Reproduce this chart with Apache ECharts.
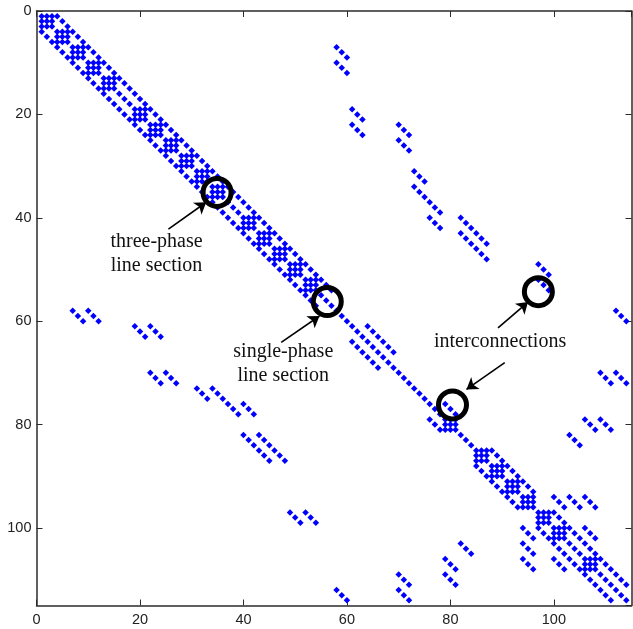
<!DOCTYPE html>
<html>
<head>
<meta charset="utf-8">
<script src="https://cdn.jsdelivr.net/npm/echarts@6/dist/echarts.min.js"></script>
<style>html,body{margin:0;padding:0;background:#fff}#c{width:633px;height:629px}</style>
</head>
<body>
<div id="c"></div>
<script>
// Sparsity pattern (symmetric matrix, 1-based indices).
const threePhaseBlockStarts = [1,4,7,10,13,19,22,25,28,31,34,40,43,46,49,52,79,85,88,91,94,97,100,106];
const diagonalRuns = [[16,18],[37,39],[55,78],[82,84],[103,105],[109,114]];
const offsetThreeRuns = [[1,54],[76,78],[85,93],[97,111]];
const interconnectionRuns = [
  [7,58,3],[10,58,3],[19,61,3],[22,61,3],[22,70,3],[25,70,3],[31,73,3],[34,73,6],
  [40,76,3],[40,82,6],[43,82,6],[49,97,3],[52,97,3],[58,112,3],[61,64,6],
  [70,109,3],[70,112,3],[79,106,3],[79,109,3],[82,103,3],
  [94,100,3],[94,103,3],[94,106,3],[100,106,3]
];
const axisMax = 115;
const tickStep = 20;
const circleCentres = [[34.9,35.1],[56.2,56.2],[97,54.3],[80.4,76.2]];
const arrows = [
  [[25.5,42.2],[32.8,37.0]],
  [[47.3,64.1],[54.7,59.0]],
  [[89.2,61.3],[95.0,56.3]],
  [[90.5,68],[83.1,73.2]]
];
const notes = [
  ['three-phase',23.2,44.6],['line section',23.2,49.2],
  ['single-phase',47.7,65.9],['line section',47.7,70.6],
  ['interconnections',89.6,64]
];

const points = [];
threePhaseBlockStarts.forEach(s => {
  for (let r = s; r < s + 3; r++) for (let c = s; c < s + 3; c++) points.push([c, r]);
});
diagonalRuns.forEach(([a, b]) => { for (let i = a; i <= b; i++) points.push([i, i]); });
offsetThreeRuns.forEach(([a, b]) => {
  for (let i = a; i <= b; i++) { points.push([i + 3, i]); points.push([i, i + 3]); }
});
interconnectionRuns.forEach(([r, c, n]) => {
  for (let k = 0; k < n; k++) { points.push([c + k, r + k]); points.push([r + k, c + k]); }
});

const axisColor = '#2b2b2b';
function axis(position, showLabels) {
  const vertical = position === 'left' || position === 'right';
  return {
    type: 'value', position, min: 0, max: axisMax, interval: tickStep,
    inverse: vertical,
    splitLine: { show: false },
    axisLine: { show: true, onZero: false, lineStyle: { color: axisColor, width: 1.5 } },
    axisTick: { show: true, inside: true, length: 6, lineStyle: { color: axisColor, width: 1 } },
    axisLabel: {
      show: showLabels, showMaxLabel: false, margin: vertical ? 5 : 7,
      fontFamily: 'Liberation Sans', fontSize: 14.5, color: '#222'
    }
  };
}

const chart = echarts.init(document.getElementById('c'), null, { renderer: 'canvas' });
chart.setOption({
  animation: false,
  backgroundColor: '#fff',
  grid: { left: 36.5, top: 11, width: 595, height: 594.5, containLabel: false },
  xAxis: [axis('bottom', true), axis('top', false)],
  yAxis: [axis('left', true), axis('right', false)],
  series: [
    {
      type: 'scatter', name: 'nonzeros', data: points, symbol: 'diamond', symbolSize: 6.5,
      itemStyle: { color: '#0000ff', opacity: 1 }, silent: true, z: 2
    },
    {
      type: 'scatter', name: 'circles', data: circleCentres, symbol: 'circle', symbolSize: 28,
      itemStyle: { color: 'rgba(0,0,0,0)', borderColor: '#000', borderWidth: 5, opacity: 1 }, silent: true, z: 3
    },
    {
      type: 'lines', coordinateSystem: 'cartesian2d', name: 'arrows',
      data: arrows.map(a => ({ coords: a })),
      symbol: ['none', 'arrow'], symbolSize: [0, 11],
      lineStyle: { color: '#000', width: 1.6, opacity: 1 }, silent: true, z: 4
    },
    {
      type: 'scatter', name: 'notes', symbolSize: 0, z: 5, silent: true,
      data: notes.map(n => ({ value: [n[1], n[2]], name: n[0] })),
      itemStyle: { opacity: 1 },
      label: {
        show: true, position: 'inside', formatter: p => p.name, opacity: 1,
        fontFamily: 'Liberation Serif', fontSize: 20, color: '#111'
      }
    }
  ]
});
</script>
</body>
</html>
